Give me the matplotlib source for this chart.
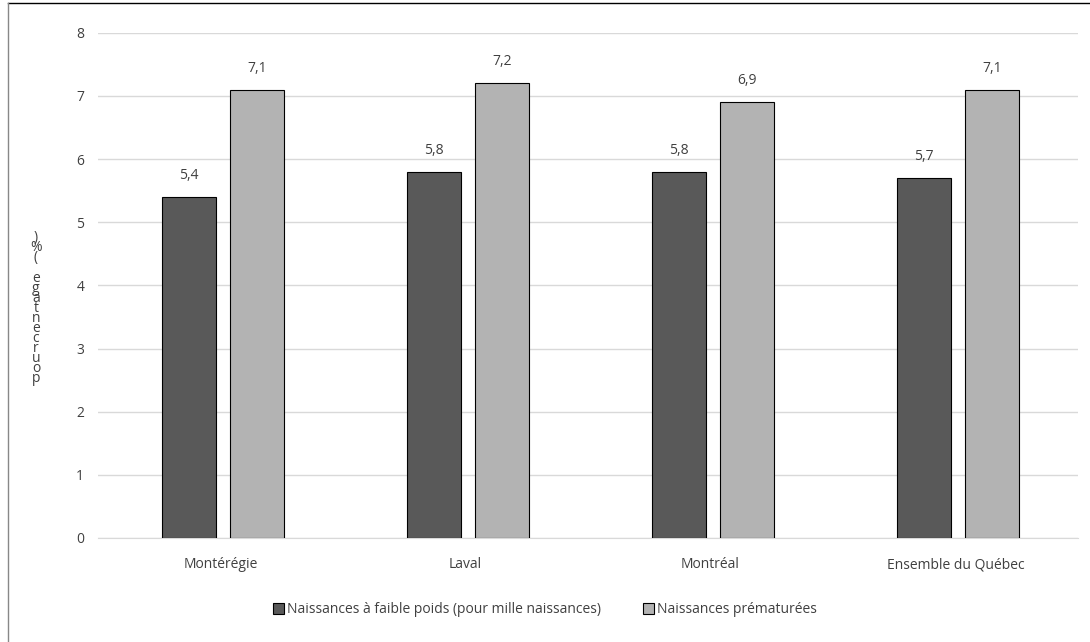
import numpy as np
import matplotlib.pyplot as plt
from matplotlib.lines import Line2D

regions = ["Montérégie", "Laval", "Montréal", "Ensemble du Québec"]
faible_poids = [5.4, 5.8, 5.8, 5.7]
prematurees = [7.1, 7.2, 6.9, 7.1]
series_names = ["Naissances à faible poids (pour mille naissances)", "Naissances prématurées"]
ylabel = "pourcentage (%)"

plt.rcParams['font.family'] = ['Open Sans', 'DejaVu Sans']

fig = plt.figure(figsize=(10.9, 6.42), dpi=100)
ax = fig.add_axes([0.09, 0.162, 0.899, 0.787])

x = np.arange(len(regions))
w = 0.22
b1 = ax.bar(x - 0.13, faible_poids, w, color='#595959', edgecolor='black', linewidth=0.8,
            label=series_names[0], zorder=3)
b2 = ax.bar(x + 0.15, prematurees, w, color='#b3b3b3', edgecolor='black', linewidth=0.8,
            label=series_names[1], zorder=3)

for bars, vals in [(b1, faible_poids), (b2, prematurees)]:
    for rect, v in zip(bars, vals):
        ax.annotate(f"{v:.1f}".replace('.', ','), (rect.get_x() + rect.get_width() / 2, v),
                    xytext=(0, 10), textcoords='offset points', ha='center', va='bottom',
                    fontsize=10, color='#404040')

ax.set_xlim(-0.5, 3.5)
ax.set_ylim(0, 8)
ax.set_yticks(range(0, 9))
ax.set_xticks(x)
ax.set_xticklabels(regions)
ax.tick_params(axis='y', length=0, labelsize=10, colors='#404040', pad=10)
ax.tick_params(axis='x', length=0, labelsize=10, colors='#404040', pad=14)
ax.yaxis.grid(True, color='#d9d9d9', linewidth=1, zorder=0)
for s in ['top', 'right', 'left']:
    ax.spines[s].set_visible(False)
ax.spines['bottom'].set_color('#d9d9d9')

# vertical stacked y label, as in the source
fig.text(0.033, 0.52, '\n'.join(reversed(ylabel)), ha='center', va='center',
         fontsize=10, color='#404040', linespacing=0.55)

fig.legend(handles=[b1, b2], loc='center', bbox_to_anchor=(0.5, 0.05), ncol=2,
           frameon=False, fontsize=10, handlelength=0.8, handleheight=0.8,
           handletextpad=0.2, columnspacing=3, labelcolor='#404040')

# outer frame
fig.add_artist(Line2D([0.007, 1], [0.995, 0.995], transform=fig.transFigure, color='black', linewidth=1))
fig.add_artist(Line2D([0.007, 0.007], [0, 0.995], transform=fig.transFigure, color='#888888', linewidth=1))

fig.savefig('out.png', dpi=100)
